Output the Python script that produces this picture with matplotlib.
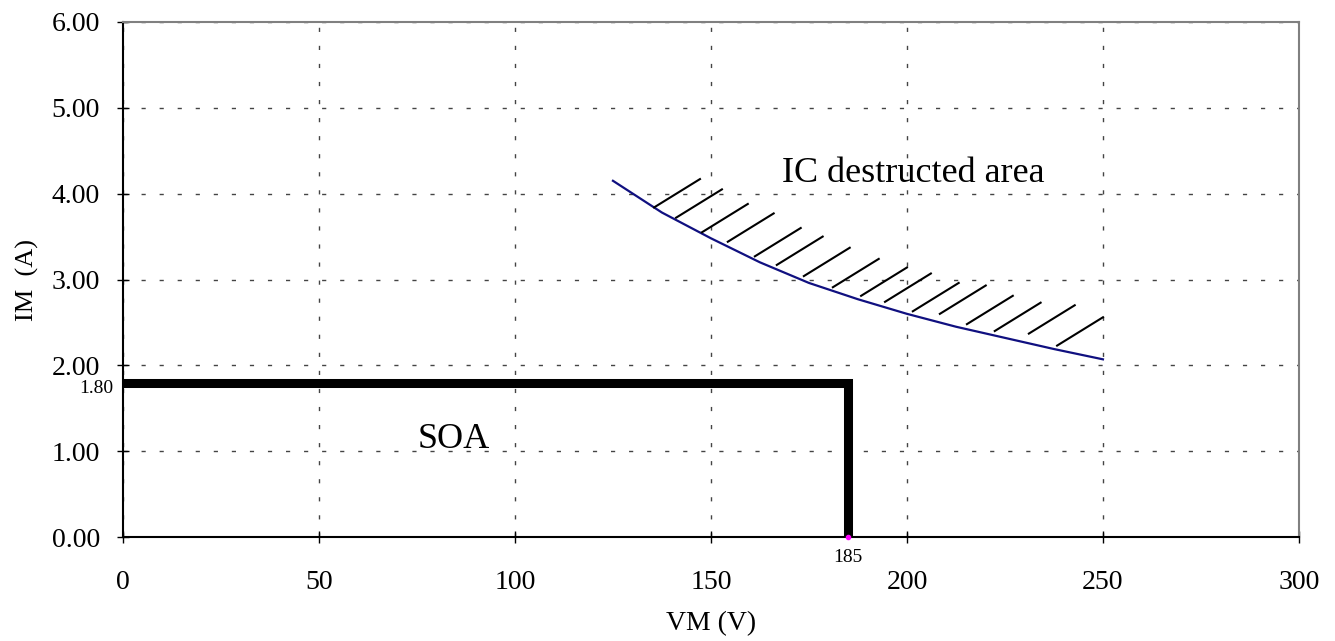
import matplotlib
matplotlib.use("Agg")
import matplotlib.pyplot as plt

plt.rcParams['font.family'] = ['Liberation Serif', 'DejaVu Serif']

# limit curve (IC destructed boundary)
curve_v = [125, 137.5, 150, 162.5, 175, 187.5, 200, 212.5, 225, 237.5, 250]
curve_i = [4.15, 3.78, 3.48, 3.20, 2.96, 2.77, 2.60, 2.45, 2.32, 2.19, 2.07]

# hatch marks above the curve (start points + common offset)
hatch_v = [135.5, 141.1, 147.7, 154.3, 161.2, 166.8, 173.7, 181.1,
           188.3, 194.4, 201.5, 208.4, 215.3, 222.4, 231.1, 238.3]
hatch_i = [3.84, 3.72, 3.55, 3.44, 3.27, 3.17, 3.04, 2.91,
           2.81, 2.74, 2.63, 2.60, 2.48, 2.40, 2.37, 2.23]
hatch_dv = 11.7
hatch_di = 0.33

# safe operating area box
soa_v = [0, 185, 185]
soa_i = [1.80, 1.80, 0]

x_ticks = [0, 50, 100, 150, 200, 250, 300]
y_ticks = [0, 1, 2, 3, 4, 5, 6]

fig = plt.figure(figsize=(13.35, 6.41), dpi=100)
ax = fig.add_axes([0.0921, 0.1622, 0.8809, 0.8035])

ax.set_xlim(0, 300)
ax.set_ylim(0, 6)
ax.set_xticks(x_ticks)
ax.set_yticks(y_ticks)
ax.set_yticklabels(["%.2f" % t for t in y_ticks])
ax.tick_params(direction='inout', length=9, width=1, labelsize=20)
ax.tick_params(axis='x', pad=19)
ax.tick_params(axis='y', pad=12)

ax.grid(True, color='#444444', linestyle=(0, (3, 10)), linewidth=1)
ax.set_axisbelow(True)

for s in ['left', 'bottom']:
    ax.spines[s].set_color('black')
    ax.spines[s].set_linewidth(1.5)
for s in ['top', 'right']:
    ax.spines[s].set_color('#808080')
    ax.spines[s].set_linewidth(1.5)

ax.plot(soa_v, soa_i, color='black', linewidth=6.5, solid_joinstyle='miter',
        solid_capstyle='butt', zorder=3)
ax.plot([185], [0], marker='o', markersize=3, color='magenta', zorder=4,
        clip_on=False)

ax.plot(curve_v, curve_i, color='#101080', linewidth=1.6, zorder=3)
for v, i in zip(hatch_v, hatch_i):
    ax.plot([v, v + hatch_dv], [i, i + hatch_di], color='black',
            linewidth=1.5, zorder=3)

ax.text(168.1, 4.14, "IC destructed area", fontsize=26, ha='left',
        va='baseline')
ax.text(84.4, 1.04, "SOA", fontsize=26, ha='center', va='baseline')
ax.text(-2.5, 1.73, "1.80", fontsize=14, ha='right', va='center')
ax.text(185, -0.14, "185", fontsize=14, ha='center', va='top')

ax.set_xlabel("VM (V)", fontsize=20, labelpad=12)
ax.set_ylabel("IM  (A)", fontsize=19, labelpad=9)

fig.savefig("out.png", dpi=100)
